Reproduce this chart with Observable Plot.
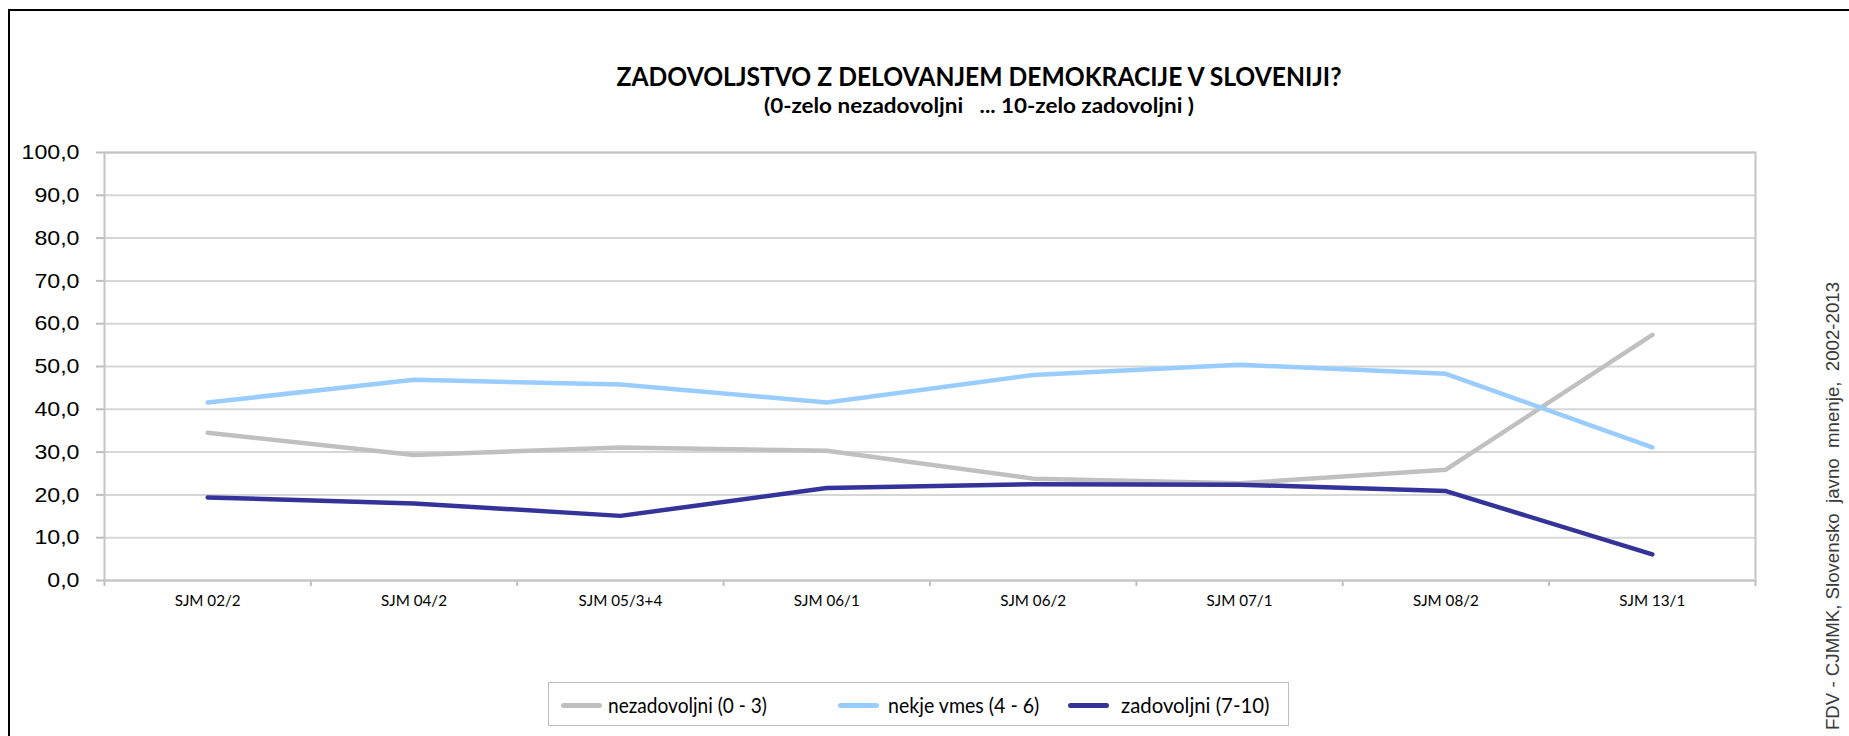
<!DOCTYPE html>
<html>
<head>
<meta charset="utf-8">
<script src="https://cdn.jsdelivr.net/npm/d3@7"></script>
<script src="https://cdn.jsdelivr.net/npm/@observablehq/plot@0.6"></script>
<style>
  html, body { margin: 0; padding: 0; background: #fff; }
  #chart { position: relative; width: 1849px; height: 736px; overflow: hidden; background: #fff; }
  #border { position: absolute; left: 8px; top: 9px; width: 1900px; height: 800px; border: 2.5px solid #000; box-sizing: border-box; }
  #plot { position: absolute; left: 0; top: 0; }
  .hum { font-family: Lato, 'Open Sans', 'DejaVu Sans Condensed', sans-serif; }
  .ttl { position: absolute; white-space: pre; font-weight: bold; color: #000; line-height: 1; transform-origin: 50% 50%; }
  #title { font-size: 27px; left: 979px; top: 75px; }
  #subtitle { font-size: 20px; left: 979px; top: 105px; }
  #source { position: absolute; white-space: pre; font-family: 'Liberation Sans', Arial, sans-serif; font-size: 18.5px; color: #3a3a3a; line-height: 1; left: 1833px; top: 506px; transform-origin: 50% 50%; }
  #legend { position: absolute; left: 548px; top: 682px; width: 741px; height: 44px; border: 1px solid #bfbfbf; box-sizing: border-box; background: #fff; }
  .sample { position: absolute; top: 20px; width: 41px; height: 4.5px; border-radius: 2.5px; }
  .lab { position: absolute; top: 21px; font-size: 21px; color: #000; white-space: pre; line-height: 1; transform-origin: 0 50%; }
  #plot svg g[aria-label^="y-axis"] line, #plot svg g[aria-label^="y-axis"] path,
  #plot svg g[aria-label^="x-axis"] line, #plot svg g[aria-label^="x-axis"] path { stroke: #bfbfbf; stroke-width: 2px; stroke-opacity: 1; }
</style>
</head>
<body>
<div id="chart">
  <div id="border"></div>
  <div id="plot"></div>
  <div id="title" class="ttl hum"></div>
  <div id="subtitle" class="ttl hum"></div>
  <div id="legend" class="hum"></div>
  <div id="source"></div>
</div>
<script>
// ---- data ----
const categories = ["SJM 02/2", "SJM 04/2", "SJM 05/3+4", "SJM 06/1", "SJM 06/2", "SJM 07/1", "SJM 08/2", "SJM 13/1"];
const seriesNames = ["nezadovoljni (0 - 3)", "nekje vmes (4 - 6)", "zadovoljni (7-10)"];
const seriesColors = ["#c0c0c0", "#99ccff", "#333399"];
const nezadovoljni = [34.5, 29.3, 31.1, 30.3, 23.8, 22.7, 25.9, 57.4];
const nekjeVmes = [41.6, 46.9, 45.8, 41.6, 48.0, 50.4, 48.3, 31.1];
const zadovoljni = [19.4, 18.0, 15.1, 21.6, 22.5, 22.4, 20.9, 6.1];
const yTicks = [0, 10, 20, 30, 40, 50, 60, 70, 80, 90, 100];
const titleText = "ZADOVOLJSTVO Z DELOVANJEM DEMOKRACIJE V SLOVENIJI?";
const subtitleText = "(0-zelo nezadovoljni   ... 10-zelo zadovoljni )";
const sourceText = "FDV - CJMMK, Slovensko  javno  mnenje,  2002-2013";

// ---- table built from the arrays ----
const seriesValues = [nezadovoljni, nekjeVmes, zadovoljni];
const rows = seriesValues.flatMap((vals, s) =>
  vals.map((v, i) => ({series: seriesNames[s], category: categories[i], pos: i + 0.5, value: v})));
const catRows = categories.map((c, i) => ({category: c, pos: i + 0.5}));
const bounds = d3.range(0, categories.length + 1);
const fmt = d => d.toFixed(1).replace(".", ",");
const HUM = "Lato, 'Open Sans', 'DejaVu Sans Condensed', sans-serif";

const chart = Plot.plot({
  width: 1849,
  height: 620,
  marginLeft: 104,
  marginRight: 94,
  marginTop: 152,
  marginBottom: 40,
  style: {background: "transparent", fontFamily: "'Liberation Sans', Arial, sans-serif", fontSize: "21px", color: "#000", overflow: "visible"},
  x: {domain: [0, categories.length], ticks: bounds, tickFormat: () => "", tickSize: 6, label: null},
  y: {domain: [0, 100], ticks: yTicks, tickFormat: fmt, tickSize: 8, tickPadding: 17, label: null},
  color: {domain: seriesNames, range: seriesColors},
  marks: [
    Plot.ruleY(yTicks, {stroke: "#d6d6d6", strokeWidth: 2}),
    Plot.frame({stroke: "#c4c4c4", strokeWidth: 2}),
    Plot.line(rows, {x: "pos", y: "value", z: "series", stroke: "series", strokeWidth: 4.5, strokeLinecap: "round", strokeLinejoin: "round"}),
    Plot.text(catRows, {x: "pos", text: "category", frameAnchor: "bottom", dy: 25, fontSize: 16, fontFamily: HUM, fill: "#000"})
  ]
});
document.getElementById("plot").appendChild(chart);

// ---- titles, source ----
const title = document.getElementById("title");
title.textContent = titleText;
const subtitle = document.getElementById("subtitle");
subtitle.textContent = subtitleText;
const source = document.getElementById("source");
source.textContent = sourceText;

function fitCentered(el, target, extra) {
  const w = el.offsetWidth;
  el.style.transform = `translate(-50%, -50%) ${extra || ""} scaleX(${target / w})`;
}
fitCentered(title, 725);
fitCentered(subtitle, 430);
fitCentered(source, 448, "rotate(-90deg)");

// ---- legend (layout positions relative to legend box) ----
const legend = document.getElementById("legend");
const sampleLeft = [12, 289, 519];
const labelLeft = [59, 339, 572];
const labelTargets = [159, 151, 148];
seriesNames.forEach((name, i) => {
  const sw = document.createElement("span");
  sw.className = "sample";
  sw.style.background = seriesColors[i];
  sw.style.left = sampleLeft[i] + "px";
  const lab = document.createElement("span");
  lab.className = "lab";
  lab.textContent = name;
  lab.style.left = labelLeft[i] + "px";
  legend.appendChild(sw);
  legend.appendChild(lab);
  const w = lab.offsetWidth;
  const h = lab.offsetHeight;
  lab.style.top = (21 - h / 2) + "px";
  lab.style.transform = `scaleX(${labelTargets[i] / w})`;
});

// ---- fit svg tick label widths ----
function fitTexts(texts, refIndex, refWidth) {
  if (!texts.length) return;
  const k = refWidth / texts[refIndex].getComputedTextLength();
  texts.forEach(t => {
    const len = t.getComputedTextLength();
    t.setAttribute("textLength", len * k);
    t.setAttribute("lengthAdjust", "spacingAndGlyphs");
  });
}
const yTexts = Array.from(chart.querySelectorAll('g[aria-label^="y-axis"] text'));
const yRef = yTexts.findIndex(t => t.textContent === "100,0");
if (yRef >= 0) fitTexts(yTexts, yRef, 58);
const xTexts = Array.from(chart.querySelectorAll('g[aria-label="text"] text'));
fitTexts(xTexts, 0, 66);
</script>
</body>
</html>
